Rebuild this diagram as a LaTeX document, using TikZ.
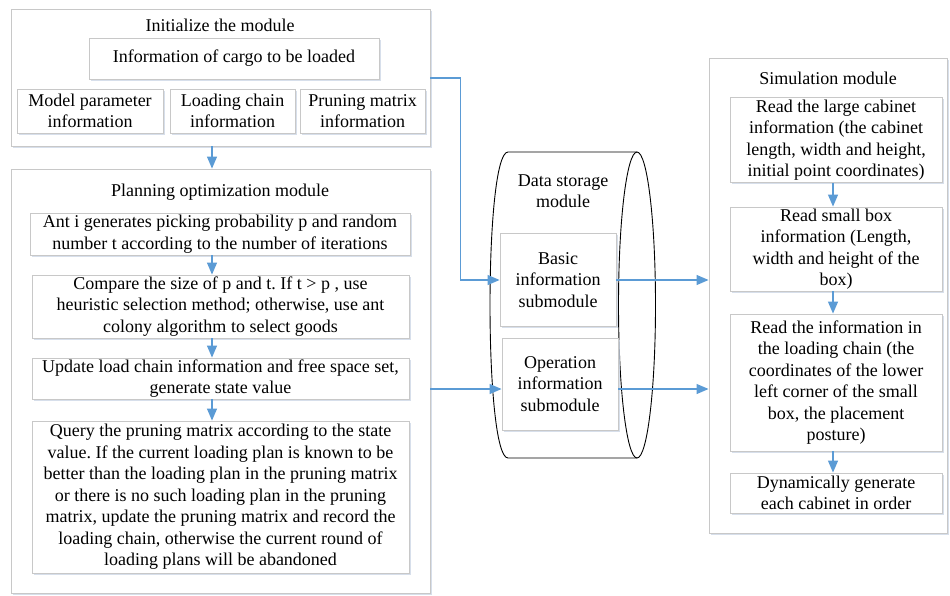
\documentclass[tikz,border=0pt]{standalone}
\usepackage{fontspec}
\setmainfont{Liberation Serif}
\usetikzlibrary{arrows.meta,calc,shadows}
\frenchspacing

\definecolor{flowblue}{RGB}{91,155,213}
\definecolor{boxgray}{RGB}{200,200,200}
\definecolor{shadowblue}{RGB}{205,215,230}

\begin{document}
\begin{tikzpicture}[x=1pt,y=-1pt,>={Triangle[length=12pt,width=10pt]},
  every node/.style={font=\fontsize{18}{21.5}\selectfont,align=center,inner sep=0pt},
  module/.style={draw=boxgray,fill=white,line width=0.9pt,
    drop shadow={shadow xshift=1.5pt,shadow yshift=-1.5pt,fill=shadowblue,opacity=0.8}},
  box/.style={draw=boxgray,fill=white,line width=0.9pt,
    drop shadow={shadow xshift=1.5pt,shadow yshift=-1.5pt,fill=shadowblue,opacity=0.8}},
  flow/.style={->,draw=flowblue,line width=1.2pt}]

  \useasboundingbox (0,0) rectangle (950,595);

  % --- Initialize the module ---
  \node[module,minimum width=419pt,minimum height=137pt] (init) at (220.5,77.5) {};
  \node (initT) at (220,25) {Initialize the module};
  \node[box,minimum width=290pt,minimum height=41pt] (cargo) at (234,58.5) {Information of cargo to be loaded};
  \node[box,minimum width=146pt,minimum height=44pt] (model) at (90,111) {Model parameter\\information};
  \node[box,minimum width=125pt,minimum height=44pt] (chain) at (232.5,111) {Loading chain\\information};
  \node[box,minimum width=125pt,minimum height=44pt] (prune) at (362.5,111) {Pruning matrix\\information};

  % --- Planning optimization module ---
  \node[module,minimum width=419pt,minimum height=424pt] (plan) at (220.5,381) {};
  \node (planT) at (220,192) {Planning optimization module};
  \node[box,minimum width=380pt,minimum height=42pt] (antA) at (220,234)
    {Ant i generates picking probability p and random\\number t according to the number of iterations};
  \node[box,minimum width=377pt,minimum height=63pt] (antB) at (220.5,306.5)
    {Compare the size of p and t. If t > p , use\\heuristic selection method; otherwise, use ant\\colony algorithm to select goods};
  \node[box,minimum width=377pt,minimum height=41pt] (antC) at (220.5,378.5)
    {Update load chain information and free space set,\\generate state value};
  \node[box,minimum width=377pt,minimum height=152pt] (antD) at (220.5,497)
    {Query the pruning matrix according to the state\\value. If the current loading plan is known to be\\better than the loading plan in the pruning matrix\\or there is no such loading plan in the pruning\\matrix, update the pruning matrix and record the\\loading chain, otherwise the current round of\\loading plans will be abandoned};

  % --- Data storage module (cylinder on its side) ---
  \draw[line width=0.9pt] (508,152) -- (637,152)
    (508,152) .. controls (484,152) and (484,458) .. (508,458) -- (637,458);
  \draw[line width=0.9pt] (637,305) ellipse [x radius=18.5, y radius=153];
  \node (storeT) at (563,191) {Data storage\\module};
  \node[box,minimum width=116pt,minimum height=93pt] (basic) at (558,280) {Basic\\information\\submodule};
  \node[box,minimum width=116pt,minimum height=92pt] (oper) at (560,384) {Operation\\information\\submodule};

  % --- Simulation module ---
  \node[module,minimum width=238pt,minimum height=475pt] (sim) at (828,295.5) {};
  \node (simT) at (828,78) {Simulation module};
  \node[box,minimum width=212pt,minimum height=85pt] (simA) at (836,140)
    {Read the large cabinet\\information (the cabinet\\length, width and height,\\initial point coordinates)};
  \node[box,minimum width=212pt,minimum height=84pt] (simB) at (836,249)
    {Read small box\\information (Length,\\width and height of the\\box)};
  \node[box,minimum width=212pt,minimum height=137pt] (simC) at (836,382.5)
    {Read the information in\\the loading chain (the\\coordinates of the lower\\left corner of the small\\box, the placement\\posture)};
  \node[box,minimum width=212pt,minimum height=40pt] (simD) at (836,493)
    {Dynamically generate\\each cabinet in order};

  % --- Connectors ---
  \coordinate (ax) at (212,0);
  \coordinate (sx) at (833,0);
  \draw[flow] (init.south -| ax) -- (plan.north -| ax);
  \draw[flow] (antA.south -| ax) -- (antB.north -| ax);
  \draw[flow] (antB.south -| ax) -- (antC.north -| ax);
  \draw[flow] (antC.south -| ax) -- (antD.north -| ax);
  \draw[flow] (simA.south -| sx) -- (simB.north -| sx);
  \draw[flow] (simB.south -| sx) -- (simC.north -| sx);
  \draw[flow] (simC.south -| sx) -- (simD.north -| sx);

  \draw[flow] (init.east |- 0,78) -| ($(basic.west)+(-39,0)$) -- (basic.west);
  \draw[flow] (plan.east |- 0,389) -- (oper.west |- 0,389);
  \draw[flow] (basic.east) -- (sim.west |- basic.east);
  \draw[flow] (oper.east |- 0,389) -- (sim.west |- 0,389);

\end{tikzpicture}
\end{document}
